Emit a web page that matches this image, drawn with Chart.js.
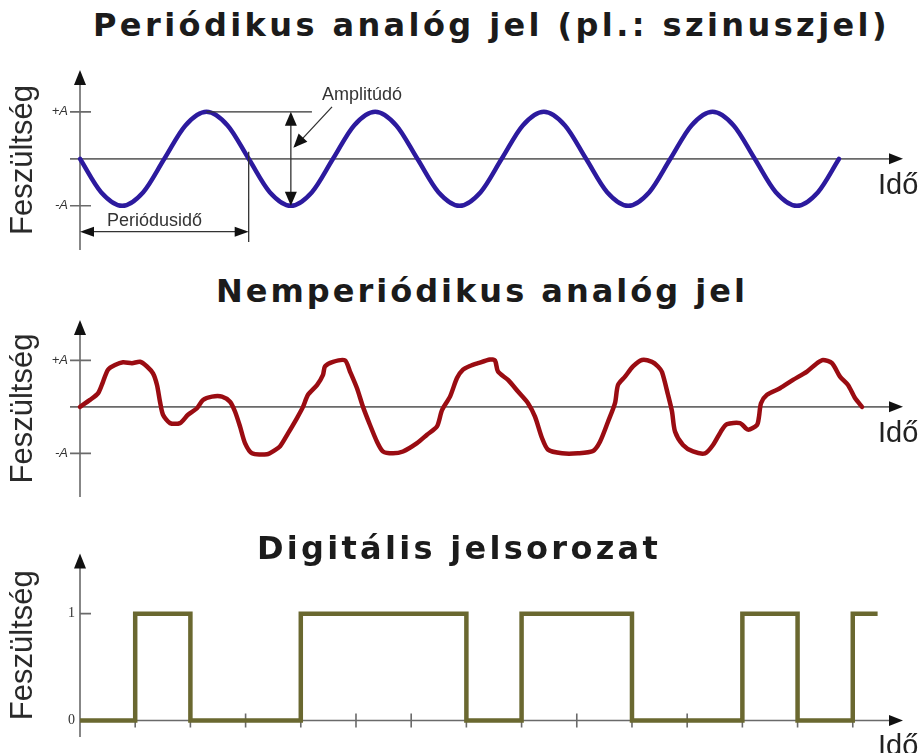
<!DOCTYPE html>
<html lang="hu">
<head>
<meta charset="UTF-8">
<title>Analóg és digitális jelek</title>
<script src="https://cdn.jsdelivr.net/npm/chart.js"></script>
<style>
  html, body { margin: 0; padding: 0; background: #fff; }
  #lap { position: relative; width: 924px; height: 753px; overflow: hidden; }
  canvas { position: absolute; left: 0; }
  .cim {
    position: absolute; z-index: 2; white-space: pre;
    font-family: 'DejaVu Sans', sans-serif; font-weight: bold;
    font-size: 32px; line-height: 32px; color: #1b1b1b;
  }
</style>
</head>
<body>
<div id="lap">
  <canvas id="jel1" width="924" height="200" style="top:60px"></canvas>
  <canvas id="jel2" width="924" height="200" style="top:310px"></canvas>
  <canvas id="jel3" width="924" height="213" style="top:540px"></canvas>
  <div class="cim" data-w="797" style="left:93px; top:9px">Periódikus analóg jel (pl.: szinuszjel)</div>
  <div class="cim" data-w="532" style="left:216px; top:275px">Nemperiódikus analóg jel</div>
  <div class="cim" data-w="404" style="left:257px; top:532px">Digitális jelsorozat</div>
</div>

<script>
  // szinuszjel: idő periódusban, feszültség A egységben
  const szinuszIdo = [0, 0.125, 0.25, 0.375, 0.5, 0.625, 0.75, 0.875, 1, 1.125, 1.25, 1.375, 1.5, 1.625, 1.75, 1.875,
    2, 2.125, 2.25, 2.375, 2.5, 2.625, 2.75, 2.875, 3, 3.125, 3.25, 3.375, 3.5, 3.625, 3.75, 3.875, 4, 4.125, 4.25, 4.375, 4.5];
  const szinuszFesz = [0, -0.71, -1, -0.71, 0, 0.71, 1, 0.71, 0, -0.71, -1, -0.71, 0, 0.71, 1, 0.71,
    0, -0.71, -1, -0.71, 0, 0.71, 1, 0.71, 0, -0.71, -1, -0.71, 0, 0.71, 1, 0.71, 0, -0.71, -1, -0.71, 0];

  // nemperiódikus jel (leolvasott pontok)
  const nemIdo = [0, 1.0, 1.8, 2.3, 2.8, 3.5, 4.3, 5.2, 6.0, 6.7, 7.3, 7.7, 8.0, 8.3, 9.0, 10.0, 10.8, 11.7, 12.3, 13.2,
    14.2, 15.0, 15.5, 16.0, 16.5, 17.2, 18.7, 19.5, 20.0, 20.8, 21.7, 22.3, 22.8, 23.7, 24.3, 24.5, 25.3, 26.5, 27.0, 27.7,
    28.3, 29.0, 29.7, 30.3, 31.3, 32.3, 33.7, 34.7, 35.7, 36.2, 37.0, 37.7, 38.3, 39.0, 39.8, 41.0, 41.5, 41.8, 42.8, 43.8,
    44.8, 45.5, 46.2, 46.8, 48.2, 49.8, 51.3, 52.0, 52.8, 53.5, 53.8, 54.5, 55.3, 56.2, 57.2, 57.8, 58.2, 58.8, 59.2, 59.5,
    60.3, 61.3, 62.5, 63.3, 64.2, 64.7, 66.0, 66.8, 67.7, 67.9, 68.1, 68.7, 70.0, 71.3, 72.7, 73.7, 74.3, 75.2, 76.0, 76.8,
    77.5, 78.2];
  const nemFesz = [0, 0.15, 0.29, 0.54, 0.80, 0.90, 0.96, 0.94, 0.97, 0.87, 0.72, 0.47, 0.11, -0.17, -0.35, -0.35, -0.17, -0.03, 0.15, 0.22,
    0.22, 0.11, -0.10, -0.42, -0.78, -1.0, -1.02, -0.93, -0.85, -0.57, -0.24, 0, 0.26, 0.47, 0.69, 0.87, 0.97, 1.0, 0.76, 0.40,
    0, -0.39, -0.75, -0.96, -1.0, -0.96, -0.78, -0.60, -0.42, -0.07, 0.22, 0.62, 0.80, 0.88, 0.94, 1.02, 1.0, 0.76, 0.58, 0.33,
    0.08, -0.21, -0.67, -0.92, -1.0, -1.0, -0.95, -0.75, -0.32, 0.08, 0.47, 0.65, 0.87, 1.01, 0.97, 0.87, 0.75, 0.26, -0.10, -0.53,
    -0.82, -0.96, -1.0, -0.82, -0.49, -0.37, -0.35, -0.49, -0.39, -0.21, 0.08, 0.26, 0.40, 0.58, 0.76, 0.94, 1.01, 0.94, 0.65, 0.47,
    0.19, 0];

  // digitális jelsorozat: egy érték bitidőnként
  const bitek = [0, 1, 0, 0, 1, 1, 1, 0, 1, 1, 0, 0, 1, 0, 1];
  const bitVege = 14.45;

  const cimkeBetu = "'Liberation Sans', Arial, sans-serif";

  function nyilhegy(ctx, x, y, szog, hossz, fel) {
    ctx.save();
    ctx.translate(x, y);
    ctx.rotate(szog);
    ctx.beginPath();
    ctx.moveTo(0, 0);
    ctx.lineTo(-hossz, -fel);
    ctx.lineTo(-hossz, fel);
    ctx.closePath();
    ctx.fill();
    ctx.restore();
  }

  // tengelyek nyíllal, jelölések, "Idő" felirat
  const tengelyek = {
    id: 'tengelyek',
    beforeDatasetsDraw(chart, args, opts) {
      const {ctx, chartArea: a, scales: {x, y}} = chart;
      const x0 = x.getPixelForValue(0), y0 = y.getPixelForValue(0);
      ctx.save();
      ctx.strokeStyle = '#6a6a6a';
      ctx.lineWidth = 1.6;
      ctx.beginPath();
      ctx.moveTo(a.left, y0); ctx.lineTo(a.right - 10, y0);
      ctx.moveTo(x0, a.bottom); ctx.lineTo(x0, a.top + 10);
      opts.yJelek.forEach(v => {
        const p = y.getPixelForValue(v);
        ctx.moveTo(x0 - opts.jelBal, p); ctx.lineTo(x0 + 11, p);
      });
      (opts.xJelek || []).forEach(v => {
        const p = x.getPixelForValue(v);
        ctx.moveTo(p, y0 - 7); ctx.lineTo(p, y0 + 7);
      });
      ctx.stroke();
      ctx.restore();
    },
    afterDatasetsDraw(chart) {
      const {ctx, chartArea: a, scales: {x, y}} = chart;
      const x0 = x.getPixelForValue(0), y0 = y.getPixelForValue(0);
      ctx.save();
      ctx.fillStyle = '#111';
      nyilhegy(ctx, a.right, y0, 0, 14, 5.5);
      nyilhegy(ctx, x0, a.top, -Math.PI / 2, 15, 6);
      ctx.fillStyle = '#222';
      ctx.font = '29px ' + cimkeBetu;
      ctx.textBaseline = 'alphabetic';
      ctx.fillText('Idő', a.right - 25, y0 + 35);
      ctx.restore();
    }
  };

  // amplitúdó és periódusidő jelölése a szinuszon
  const meretek = {
    id: 'meretek',
    afterDatasetsDraw(chart) {
      const {ctx, scales: {x, y}} = chart;
      const px = v => x.getPixelForValue(v), py = v => y.getPixelForValue(v);
      ctx.save();
      ctx.strokeStyle = '#333';
      ctx.fillStyle = '#111';
      ctx.lineWidth = 1.3;
      ctx.beginPath();
      ctx.moveTo(px(0.75), py(1)); ctx.lineTo(px(1.375), py(1));
      ctx.moveTo(px(1), py(0.15)); ctx.lineTo(px(1), py(-1.77));
      ctx.moveTo(px(0) + 6, py(-1.55)); ctx.lineTo(px(1) - 6, py(-1.55));
      ctx.moveTo(px(1.25), py(1) + 6); ctx.lineTo(px(1.25), py(-1) - 6);
      ctx.moveTo(px(1.494), py(1.106)); ctx.lineTo(px(1.275), py(0.26));
      ctx.stroke();
      nyilhegy(ctx, px(0), py(-1.55), Math.PI, 14, 5);
      nyilhegy(ctx, px(1), py(-1.55), 0, 14, 5);
      nyilhegy(ctx, px(1.25), py(1), -Math.PI / 2, 14, 6);
      nyilhegy(ctx, px(1.25), py(-1), Math.PI / 2, 14, 6);
      const sz = Math.atan2(py(0.234) - py(1.106), px(1.265) - px(1.494));
      nyilhegy(ctx, px(1.265), py(0.234), sz, 14, 6);
      ctx.fillStyle = '#333';
      ctx.font = '18px ' + cimkeBetu;
      ctx.textBaseline = 'middle';
      ctx.fillText('Amplitúdó', px(1.435), py(1.36));
      ctx.fillText('Periódusidő', px(0.16), py(-1.32));
      ctx.restore();
    }
  };

  function yTengely(min, max, jelek, felirat, szelesseg, betu) {
    return {
      min: min, max: max,
      afterFit: s => { s.width = szelesseg; },
      afterBuildTicks: s => { s.ticks = jelek.map(v => ({value: v})); },
      grid: {display: false, drawTicks: false},
      border: {display: false},
      ticks: {
        padding: szelesseg === 80 ? 5 : 2,
        color: '#333',
        font: betu,
        callback: v => felirat[jelek.indexOf(v)]
      },
      title: {
        display: true, text: 'Feszültség', color: '#2a2a2a',
        font: {family: cimkeBetu, size: 31},
        padding: {top: 5, bottom: 0}
      }
    };
  }

  function alapBeallitas(xMin, xMax, y, padding, tengelyOpc) {
    return {
      responsive: false,
      animation: false,
      layout: {padding: padding},
      plugins: {legend: {display: false}, tooltip: {enabled: false}, tengelyek: tengelyOpc},
      elements: {point: {radius: 0}},
      scales: {
        x: {type: 'linear', min: xMin, max: xMax, display: false},
        y: y
      }
    };
  }

  const aBetu = {family: cimkeBetu, size: 13, style: 'italic'};

  new Chart(document.getElementById('jel1'), {
    type: 'line',
    data: {
      datasets: [{
        data: szinuszIdo.map((t, i) => ({x: t, y: szinuszFesz[i]})),
        borderColor: '#2c1a9e', borderWidth: 4.5,
        cubicInterpolationMode: 'monotone', borderCapStyle: 'round'
      }]
    },
    options: alapBeallitas(-0.0593, 4.879,
      yTengely(-1.94, 1.89, [-1, 1], ['-A', '+A'], 70, aBetu),
      {top: 10, bottom: 10, left: 0, right: 21},
      {yJelek: [-1, 1], jelBal: 10}),
    plugins: [tengelyek, meretek]
  });

  new Chart(document.getElementById('jel2'), {
    type: 'line',
    data: {
      datasets: [{
        data: nemIdo.map((t, i) => ({x: t, y: nemFesz[i]})),
        borderColor: '#9a0c12', borderWidth: 4.5,
        tension: 0.25, borderJoinStyle: 'round', borderCapStyle: 'round'
      }]
    },
    options: alapBeallitas(-1.0, 82.3,
      yTengely(-1.94, 1.87, [-1, 1], ['-A', '+A'], 70, aBetu),
      {top: 10, bottom: 13, left: 0, right: 21},
      {yJelek: [-1, 1], jelBal: 10}),
    plugins: [tengelyek]
  });

  const bitPontok = bitek.map((b, i) => ({x: i, y: b}));
  bitPontok.push({x: bitVege, y: bitek[bitek.length - 1]});

  new Chart(document.getElementById('jel3'), {
    type: 'line',
    data: {
      datasets: [{
        data: bitPontok,
        borderColor: '#6a6830', borderWidth: 4.5,
        stepped: 'before', borderJoinStyle: 'miter'
      }]
    },
    options: alapBeallitas(0, 14.91,
      yTengely(-0.155, 1.564, [0, 1], ['0', '1'], 80, {family: "'Liberation Serif', serif", size: 14}),
      {top: 8, bottom: 16, left: 0, right: 21},
      {yJelek: [1], jelBal: 0, xJelek: bitek.map((b, i) => i).slice(1)}),
    plugins: [tengelyek]
  });

  // címek szélességének illesztése
  document.querySelectorAll('.cim').forEach(el => {
    const cel = +el.dataset.w;
    const termeszetes = el.getBoundingClientRect().width;
    el.style.letterSpacing = ((cel - termeszetes) / el.textContent.length) + 'px';
  });
</script>
</body>
</html>
